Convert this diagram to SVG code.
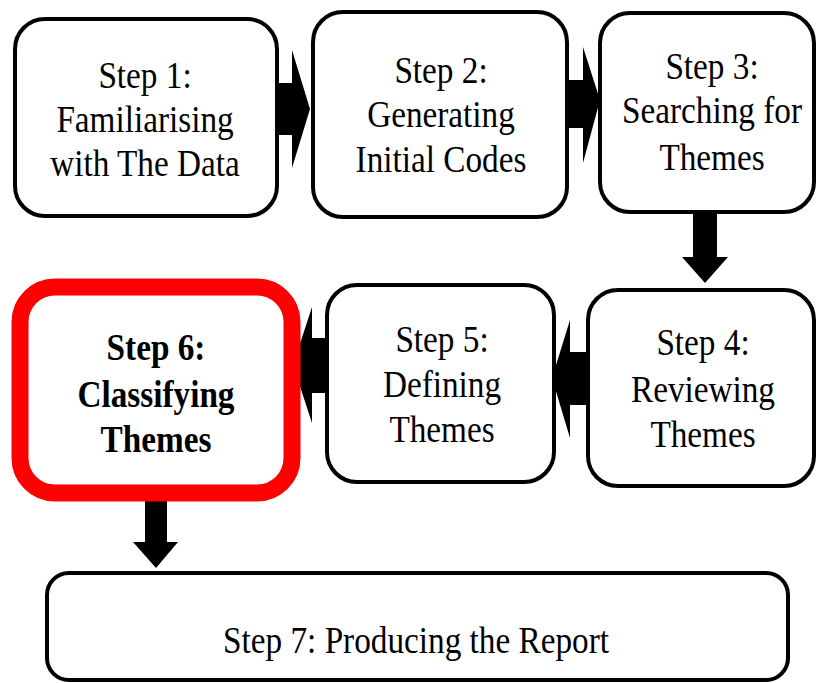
<svg xmlns="http://www.w3.org/2000/svg" width="818" height="683" viewBox="0 0 818 683">
  <style>
    .box { fill: #ffffff; stroke: #000000; stroke-width: 4; }
    .hot { fill: #ffffff; stroke: #ff0000; stroke-width: 17; }
    .arrow { fill: #000000; stroke: none; }
    .label { font-family: "Liberation Serif", "Times New Roman", serif; font-size: 38px; fill: #000000; text-anchor: middle; }
    .bold { font-weight: bold; }
  </style>
  <rect width="818" height="683" fill="#ffffff"/>

  <!-- connectors: block arrows between the steps -->
  <g id="connectors">
    <polygon class="arrow" points="276,83 292,83 292,50 310,109 292,168 292,135 276,135"/>
    <polygon class="arrow" points="566,80 583,80 583,47 600,100 583,163 583,128 566,128"/>
    <polygon class="arrow" points="693,211 717,211 717,257 728,257 705,283 682,257 693,257"/>
    <polygon class="arrow" points="589,352 570,352 570,320 552,378 570,438 570,405 589,405"/>
    <polygon class="arrow" points="328,338 312,338 312,307 293,365 312,423 312,393 328,393"/>
    <polygon class="arrow" points="145,494 167,494 167,542 178,542 156,568 133,542 145,542"/>
  </g>

  <g id="step1">
    <rect class="box" x="15" y="19" width="262" height="197" rx="30"/>
    <text class="label" transform="matrix(0.875 0 0 1 145 88)">Step 1:</text>
    <text class="label" transform="matrix(0.875 0 0 1 145 132)">Familiarising</text>
    <text class="label" transform="matrix(0.875 0 0 1 145 176)">with The Data</text>
  </g>

  <g id="step2">
    <rect class="box" x="313" y="12" width="254" height="205" rx="30"/>
    <text class="label" transform="matrix(0.875 0 0 1 441 83)">Step 2:</text>
    <text class="label" transform="matrix(0.875 0 0 1 441 127)">Generating</text>
    <text class="label" transform="matrix(0.875 0 0 1 441 172)">Initial Codes</text>
  </g>

  <g id="step3">
    <rect class="box" x="600" y="13" width="214" height="199" rx="30"/>
    <text class="label" transform="matrix(0.875 0 0 1 712 79)">Step 3:</text>
    <text class="label" transform="matrix(0.875 0 0 1 712 123)">Searching for</text>
    <text class="label" transform="matrix(0.875 0 0 1 712 170)">Themes</text>
  </g>

  <g id="step4">
    <rect class="box" x="588" y="290" width="226" height="196" rx="30"/>
    <text class="label" transform="matrix(0.875 0 0 1 703 355)">Step 4:</text>
    <text class="label" transform="matrix(0.875 0 0 1 703 402)">Reviewing</text>
    <text class="label" transform="matrix(0.875 0 0 1 703 447)">Themes</text>
  </g>

  <g id="step5">
    <rect class="box" x="327" y="285" width="227" height="197" rx="30"/>
    <text class="label" transform="matrix(0.875 0 0 1 442 352)">Step 5:</text>
    <text class="label" transform="matrix(0.875 0 0 1 442 397)">Defining</text>
    <text class="label" transform="matrix(0.875 0 0 1 442 442)">Themes</text>
  </g>

  <g id="step6">
    <rect class="hot" x="20" y="287" width="272" height="206" rx="35"/>
    <text class="label bold" transform="matrix(0.875 0 0 1 156 360)">Step 6:</text>
    <text class="label bold" transform="matrix(0.875 0 0 1 156 407)">Classifying</text>
    <text class="label bold" transform="matrix(0.875 0 0 1 156 452)">Themes</text>
  </g>

  <g id="step7">
    <rect class="box" x="47" y="573" width="741" height="107" rx="22"/>
    <text class="label" transform="matrix(0.875 0 0 1 416 653)">Step 7: Producing the Report</text>
  </g>
</svg>
